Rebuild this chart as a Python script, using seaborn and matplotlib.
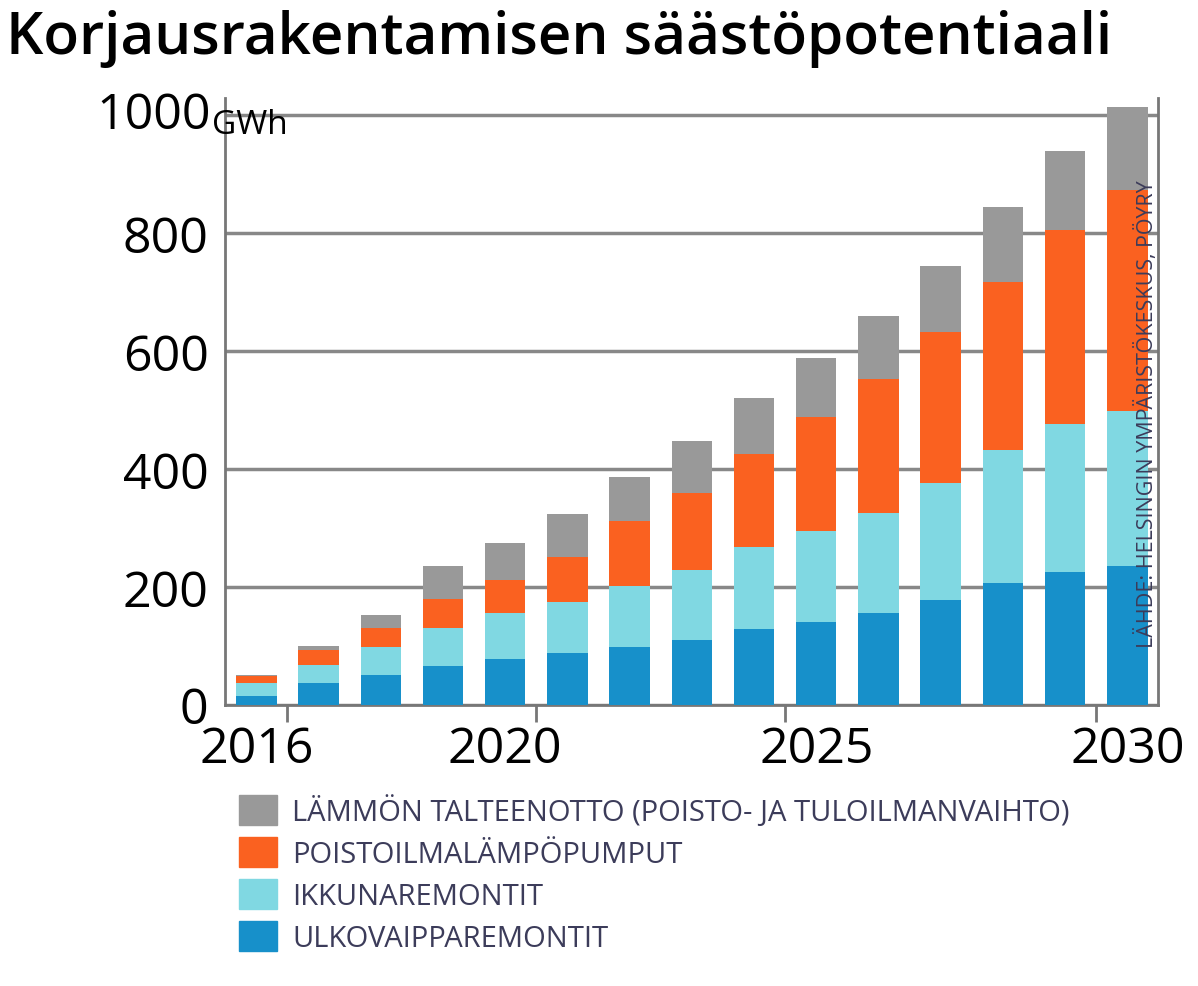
import matplotlib.pyplot as plt
import matplotlib.patches as mpatches
import seaborn as sns
import pandas as pd
import numpy as np

years = list(range(2016, 2031))
ulkovaippa = [15, 36, 51, 66, 78, 88, 98, 110, 129, 141, 155, 178, 207, 226, 236]
ikkuna = [21, 32, 47, 65, 77, 87, 104, 118, 138, 153, 171, 199, 226, 251, 263]
poistoilma = [12, 24, 33, 49, 57, 75, 109, 132, 159, 195, 226, 255, 285, 329, 374]
lammon = [3, 8, 22, 56, 63, 73, 76, 87, 95, 100, 107, 113, 127, 133, 141]

labels = ['LÄMMÖN TALTEENOTTO (POISTO- JA TULOILMANVAIHTO)',
          'POISTOILMALÄMPÖPUMPUT', 'IKKUNAREMONTIT', 'ULKOVAIPPAREMONTIT']
colors = ['#999999', '#fa6120', '#80d8e2', '#1790ca']
text_color = '#3c3c5a'

plt.rcParams['font.family'] = 'Open Sans'
fig = plt.figure(figsize=(11.98, 9.87), dpi=100)
ax = fig.add_axes([0.188, 0.285, 0.779, 0.615])

df = pd.DataFrame({'year': years})
layers = [ulkovaippa, ikkuna, poistoilma, lammon]
cum = np.cumsum(np.array(layers), axis=0)
# tallest first so lower layers sit on top
for i in range(3, -1, -1):
    df['v'] = cum[i]
    sns.barplot(data=df, x='year', y='v', color=colors[3 - i], native_scale=True,
                width=0.65, saturation=1, ax=ax, zorder=3)

ax.set_xlim(2015.5, 2030.5)
ax.set_ylim(0, 1030)
ax.set_yticks([0, 200, 400, 600, 800, 1000])
ax.set_yticklabels(['0', '200', '400', '600', '800', ''])
ax.set_xticks([2016, 2020, 2025, 2030])
ax.set_xticks([2016.5, 2020.5, 2024.5, 2029.5], minor=True)
ax.tick_params(axis='x', which='major', length=0, labelsize=36, pad=14)
ax.tick_params(axis='x', which='minor', length=12, width=2, color='#777777')
ax.tick_params(axis='y', length=0, labelsize=36, pad=12)
ax.set_xlabel('')
ax.set_ylabel('')
ax.grid(axis='y', color='#888888', linewidth=2.5, zorder=0)
ax.grid(axis='x', visible=False)
ax.set_facecolor('white')
ax.spines['top'].set_visible(False)
for s in ['left', 'right', 'bottom']:
    ax.spines[s].set_color('#777777')
    ax.spines[s].set_linewidth(2)

ax.text(-0.015, 1000, '1000', transform=ax.get_yaxis_transform(), ha='right', va='center', fontsize=36)
ax.text(-0.014, 985, 'GWh', transform=ax.get_yaxis_transform(), ha='left', va='center', fontsize=24)
ax.text(1.0, 0.48, 'LÄHDE: HELSINGIN YMPÄRISTÖKESKUS, PÖYRY', transform=ax.transAxes,
        rotation=90, ha='right', va='center', fontsize=15.5, color=text_color)

fig.text(0.005, 0.99, 'Korjausrakentamisen säästöpotentiaali', ha='left', va='top',
         fontsize=42, fontweight='semibold')

handles = [mpatches.Patch(color=c) for c in colors]
fig.legend(handles, labels, loc='upper left', bbox_to_anchor=(0.178, 0.22), frameon=False,
           fontsize=21, labelcolor=text_color, handlelength=1.3, handleheight=1.2,
           handletextpad=0.5, labelspacing=0.35)

fig.savefig('out.png', dpi=100, facecolor='white')
